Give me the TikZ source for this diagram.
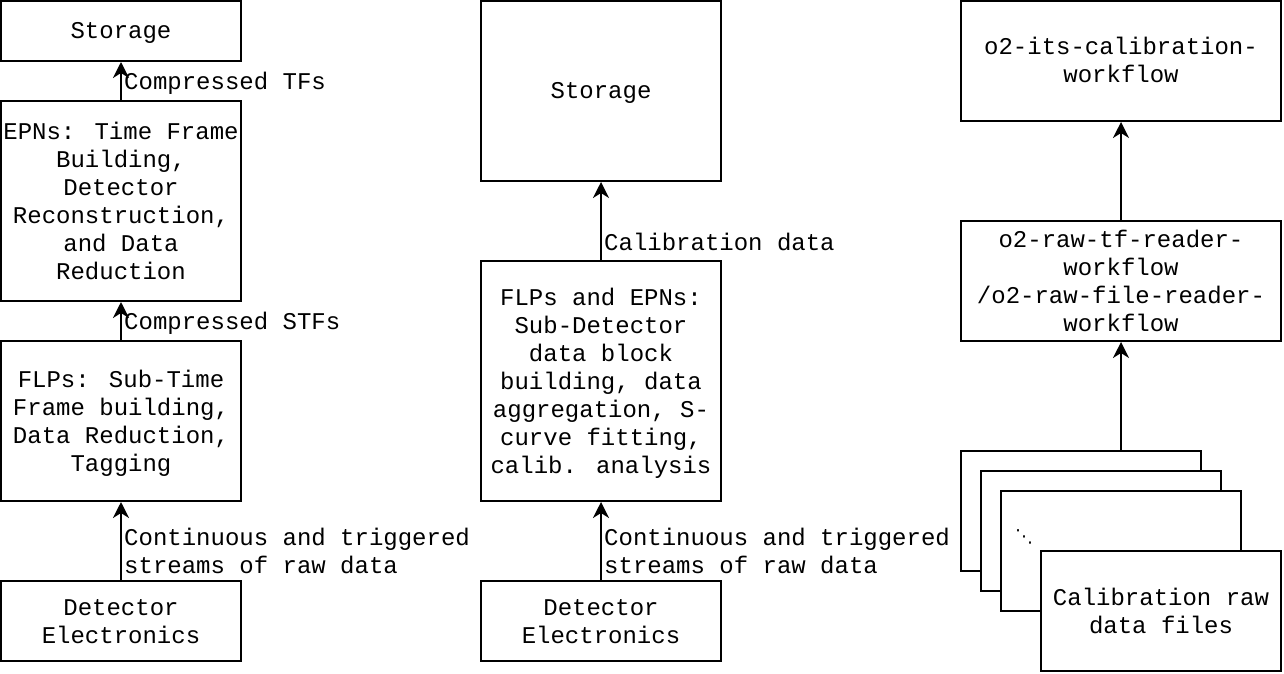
\documentclass[tikz,border=0pt]{standalone}
\usepackage{fontspec}
\setmainfont{Liberation Mono}
\newfontfamily\symfont{DejaVu Sans}
\usetikzlibrary{arrows.meta}
\newcommand\mytop{\rule{0pt}{22pt}}
\newcommand\mybot{\rule[-6pt]{0pt}{6pt}}
\begin{document}
\begin{tikzpicture}[x=1pt,y=-1pt,
  box/.style={draw, line width=2pt, align=center, inner sep=0pt, fill=white,
    font=\fontsize{24}{28}\selectfont},
  lbl/.style={anchor=west, align=left, inner sep=0pt,
    font=\fontsize{24}{28}\selectfont},
  arr/.style={line width=2pt, -{Stealth[length=16pt,width=16pt,inset=5pt]}}]
\useasboundingbox (0,0) rectangle (1284,674);
% left column
\node[box, minimum width=240pt, minimum height=60pt] (st1) at (121,31) {\mytop Storage\mybot};
\node[box, minimum width=240pt, minimum height=200pt] (epn1) at (121,201)
  {\mytop EPNs: Time Frame\\Building,\\Detector\\Reconstruction,\\and Data\\Reduction\mybot};
\node[box, minimum width=240pt, minimum height=160pt] (flp1) at (121,421)
  {\mytop FLPs: Sub-Time\\Frame building,\\Data Reduction,\\Tagging\mybot};
\node[box, minimum width=240pt, minimum height=80pt] (det1) at (121,621)
  {\mytop Detector\\Electronics\mybot};
\draw[arr] (det1) -- (flp1);
\draw[arr] (flp1) -- (epn1);
\draw[arr] (epn1) -- (st1);
\node[lbl] (l1) at (124,83) {Compressed TFs};
\node[lbl] (l2) at (124,323) {Compressed STFs};
\node[lbl] (l3) at (124,551) {Continuous and triggered\\streams of raw data};
% middle column
\node[box, minimum width=240pt, minimum height=180pt] (st2) at (601,91) {\mytop Storage\mybot};
\node[box, minimum width=240pt, minimum height=240pt] (fe2) at (601,381)
  {\mytop FLPs and EPNs:\\Sub-Detector\\data block\\building, data\\aggregation, S-\\curve fitting,\\calib. analysis\mybot};
\node[box, minimum width=240pt, minimum height=80pt] (det2) at (601,621)
  {\mytop Detector\\Electronics\mybot};
\draw[arr] (det2) -- (fe2);
\draw[arr] (fe2) -- (st2);
\node[lbl] (l4) at (604,242) {Calibration data};
\node[lbl] (l5) at (604,551) {Continuous and triggered\\streams of raw data};
% right column
\node[box, minimum width=320pt, minimum height=120pt] (its) at (1121,61)
  {\mytop o2-its-calibration-\\workflow\mybot};
\node[box, minimum width=320pt, minimum height=120pt] (raw) at (1121,281)
  {\mytop o2-raw-tf-reader-\\workflow\\/o2-raw-file-reader-\\workflow\mybot};
\node[box, minimum width=240pt, minimum height=120pt] (f1) at (1081,511) {};
\node[box, minimum width=240pt, minimum height=120pt] (f2) at (1101,531) {};
\node[box, minimum width=240pt, minimum height=120pt] (f3) at (1121,551) {};
\node[inner sep=0pt, font=\symfont\fontsize{18}{20}\selectfont] (dots) at (1024,537) {⋱};
\node[box, minimum width=240pt, minimum height=120pt] (f4) at (1161,611)
  {\mytop Calibration raw\\data files\mybot};
\coordinate (fin) at (raw.south |- f1.north);
\draw[arr] (fin) -- (raw.south);
\draw[arr] (raw) -- (its);
\end{tikzpicture}
\end{document}
